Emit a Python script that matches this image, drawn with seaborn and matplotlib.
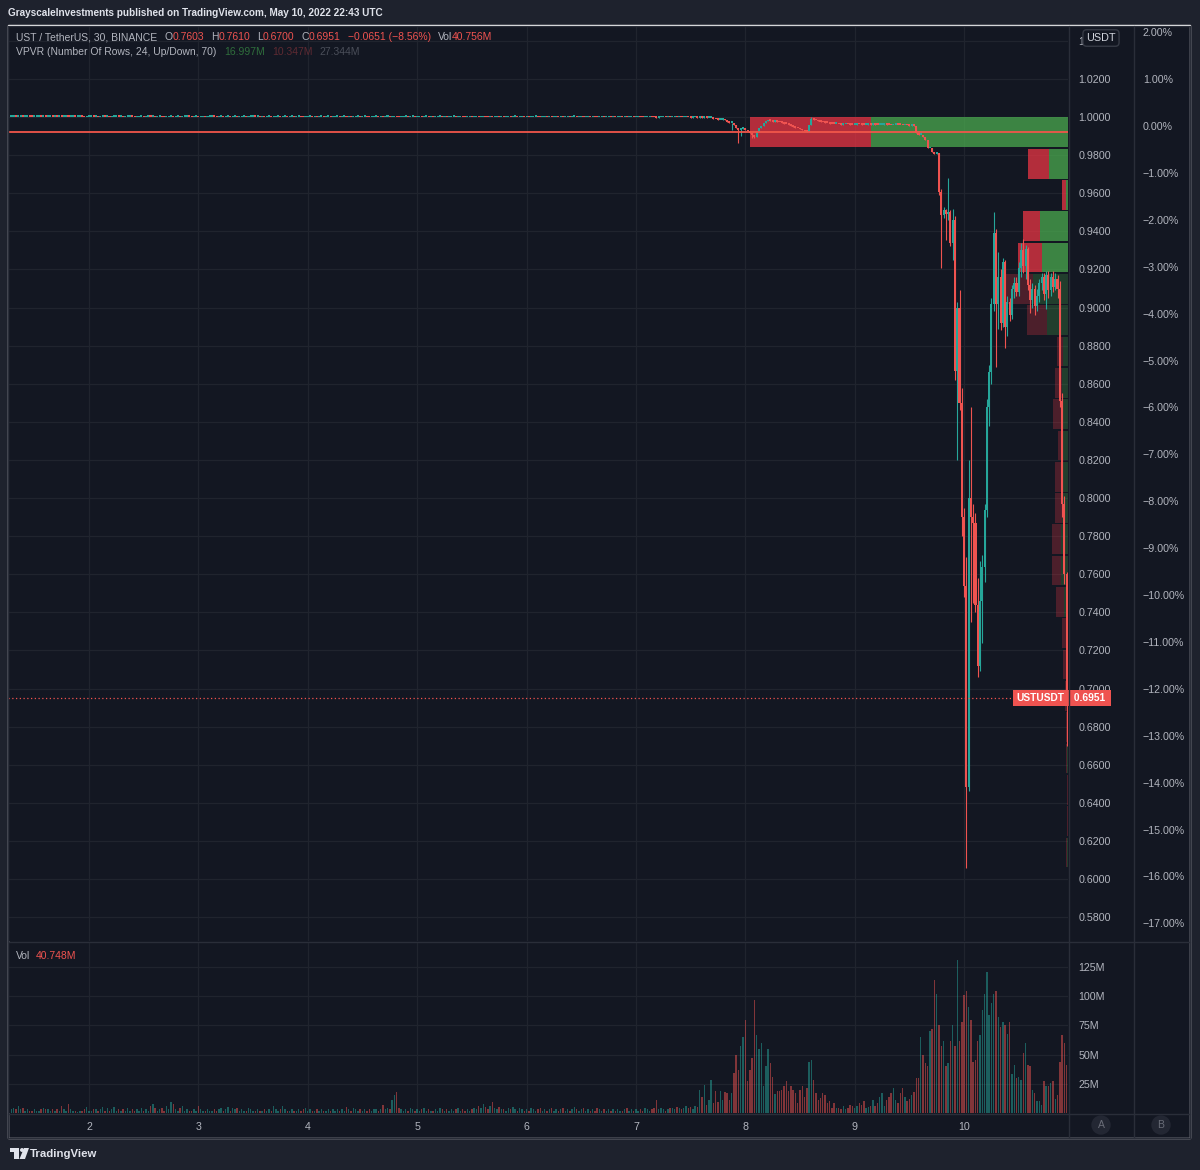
import numpy as np
import pandas as pd
import matplotlib
matplotlib.use("Agg")
import matplotlib.pyplot as plt
import matplotlib.transforms as mtransforms
from matplotlib.colors import to_rgba
from matplotlib.lines import Line2D
from matplotlib.patches import Rectangle, Circle, Polygon
import seaborn as sns

W, H = 1200, 1170

# ---------------- data (UST/USDT, 30 min, Binance) ----------------
start = "2022-05-01 07:00"

# May 1 07:00 -> May 7 13:30 : close offsets from 1.0000 in 0.0001
flat_bp = [
    1, 2, 1, 2, 2, 1, 1, 2, 1, 0, 1, 1, 2, 1, 1, 0, 1, 2, 1, 1, 0, 1, 0, 1,
    1, 0, 0, 1, 0, 1, 1, 0, -1, 0, 0, 1, 0, 0, -1, 0, 1, 0, 0, -1, 0, 0, 1, 0,
    0, -1, 0, 0, 1, 0, -1, -1, 0, 0, -1, 0, 1, 0, 0, -1, 0, 0, -1, -2, -1, 0, 0, -1,
    0, 0, -1, 0, 0, 1, 0, -1, 0, 0, -1, -1, 0, -1, 0, 0, 1, 0, -1, 0, 0, -1, 0, 0,
    -1, 0, 0, -1, -1, 0, 0, -1, 0, 0, 1, 0, 0, -1, 0, -1, 0, 0, -1, -1, 0, 0, -1, 0,
    0, -1, 0, 0, -1, 0, 0, -1, -2, -1, 0, 0, -1, 0, -1, 0, 0, -1, 0, 0, -1, -1, 0, 0,
    -1, 0, 0, -1, 0, -1, -1, 0, 0, -1, 0, 0, -1, -2, -1, 0, 0, -1, 0, -1, 0, 0, -1, -1,
    0, -1, -2, -1, 0, 0, -1, 0, 0, -1, -1, 0, -1, 0, 0, -1, 0, -1, -1, 0, 0, -1, 0, -1,
    -1, 0, 0, -1, -1, 0, -1, -2, -1, 0, -1, -1, 0, -2, -1, 0, -1, -2, 0, -1, -1, 0, -1, 0,
    -1, -1, 0, -1, 0, 0, -1, -1, 0, -1, 0, -1, -1, 0, 0, -1, -2, -1, 0, -1, 0, -1, -1, 0,
    -1, 0, -1, -1, 0, -1, 0, 0, -1, -1, 0, -1, -1, 0, -1, 0, -1, -2, -1, 0, -1, -1, 0, -1,
    0, -1, -1, 0, -1, 0, -1, -1, 0, -1, -1, 0, -1, -2, -1, -1, 0, -1, -2, -3, -1, -1, 0, -1,
    -1, -2, -1, -1, -2, -1, -2, -2, -1, -2, -3, -2, -2, -3,
]

# May 7 14:00 -> May 9 18:00 closes
mid_close = [
    0.9999, 0.9996, 0.9998, 0.9995, 0.9996, 0.9997, 0.9992, 0.9988, 0.9985, 0.9987,
    0.9989, 0.9983, 0.9976, 0.9968, 0.9970,
    0.9958, 0.9945, 0.9932, 0.9938, 0.9944, 0.9930, 0.9925, 0.9918, 0.9905, 0.9895,
    0.9925, 0.9942, 0.9955, 0.9968, 0.9978, 0.9982,
    0.9980, 0.9976, 0.9978, 0.9974, 0.9972,
    0.9970, 0.9966, 0.9963, 0.9960, 0.9955, 0.9950, 0.9945, 0.9940, 0.9936, 0.9930,
    0.9925, 0.9922,
    0.9960, 0.9990, 0.9985,
    0.9982, 0.9978, 0.9975, 0.9972, 0.9970, 0.9968,
    0.9966, 0.9965, 0.9963, 0.9964, 0.9962, 0.9960, 0.9961, 0.9963, 0.9962, 0.9960,
    0.9958, 0.9960, 0.9962, 0.9961, 0.9960, 0.9959, 0.9960, 0.9962, 0.9960,
    0.9961, 0.9960, 0.9958, 0.9959, 0.9960, 0.9961, 0.9960, 0.9958, 0.9957, 0.9958,
    0.9960, 0.9959, 0.9958, 0.9957, 0.9958, 0.9956, 0.9955, 0.9956, 0.9953,
    0.9918, 0.9905, 0.9908, 0.9895, 0.9880, 0.9835, 0.9840, 0.9815, 0.9808, 0.9812,
]
# visible wicks in the mid section: candle index -> (high, low)
mid_wick = {316: (None, 0.9932), 319: (None, 0.9864), 320: (None, 0.9900),
            325: (None, 0.9890), 326: (None, 0.9888), 351: (1.0002, None)}

# May 9 18:30 -> May 10 22:30
crash_open = [
    0.9812, 0.9606, 0.9486, 0.9510, 0.9490, 0.9500, 0.9340, 0.9460, 0.8667, 0.9000,
    0.8500, 0.7900, 0.7540, 0.6483, 0.8000, 0.7900, 0.7870, 0.7440, 0.7120, 0.7460,
    0.7640, 0.7940, 0.8480, 0.8660, 0.9020, 0.9390, 0.9020, 0.9160, 0.8920, 0.9240,
    0.8900, 0.9030, 0.8960, 0.9100, 0.9130, 0.9080, 0.9210, 0.9300, 0.9220, 0.9310,
    0.9120, 0.9040, 0.9100, 0.9010, 0.9060, 0.9130, 0.9160, 0.9070, 0.9170, 0.9090,
    0.9160, 0.9110, 0.9150, 0.9100, 0.8510, 0.7970, 0.7603,
]
crash_high = [
    0.9812, 0.9620, 0.9530, 0.9520, 0.9680, 0.9510, 0.9520, 0.9480, 0.9030, 0.9090,
    0.8580, 0.7950, 0.7690, 0.8200, 0.8480, 0.7970, 0.7920, 0.7580, 0.7670, 0.7700,
    0.7970, 0.8520, 0.8700, 0.9050, 0.9500, 0.9410, 0.9290, 0.9200, 0.9260, 0.9250,
    0.9060, 0.9050, 0.9120, 0.9160, 0.9160, 0.9240, 0.9340, 0.9360, 0.9330, 0.9320,
    0.9150, 0.9130, 0.9120, 0.9100, 0.9150, 0.9180, 0.9180, 0.9190, 0.9190, 0.9180,
    0.9190, 0.9180, 0.9170, 0.9140, 0.8550, 0.8010, 0.7610,
]
crash_low = [
    0.9590, 0.9207, 0.9470, 0.9354, 0.9460, 0.9325, 0.9250, 0.8620, 0.8200, 0.8460,
    0.7800, 0.7480, 0.6058, 0.6460, 0.7350, 0.7450, 0.7400, 0.7060, 0.7090, 0.7240,
    0.7560, 0.7900, 0.8380, 0.8600, 0.8980, 0.8690, 0.8890, 0.8880, 0.8900, 0.8790,
    0.8850, 0.8930, 0.8940, 0.9050, 0.9060, 0.9060, 0.9160, 0.9180, 0.9150, 0.9090,
    0.8970, 0.9000, 0.8960, 0.8980, 0.9030, 0.9090, 0.9040, 0.8990, 0.9050, 0.9060,
    0.9080, 0.9090, 0.9050, 0.8480, 0.7900, 0.7550, 0.6700,
]
crash_close = [
    0.9606, 0.9486, 0.9510, 0.9490, 0.9500, 0.9340, 0.9460, 0.8667, 0.9000, 0.8500,
    0.7900, 0.7540, 0.6483, 0.8000, 0.7900, 0.7870, 0.7440, 0.7120, 0.7460, 0.7640,
    0.7940, 0.8480, 0.8660, 0.9020, 0.9390, 0.9020, 0.9160, 0.8920, 0.9240, 0.8900,
    0.9030, 0.8960, 0.9100, 0.9130, 0.9080, 0.9210, 0.9300, 0.9220, 0.9310, 0.9120,
    0.9040, 0.9100, 0.9010, 0.9060, 0.9130, 0.9160, 0.9070, 0.9170, 0.9090, 0.9160,
    0.9110, 0.9150, 0.9100, 0.8510, 0.7970, 0.7602, 0.6951,
]

# volume per candle, millions
vol_flat = [
    3, 4, 3, 6, 3, 4, 2, 3, 2, 2, 3, 2, 2, 3, 4, 3, 3, 2, 3, 2, 3, 2, 6, 3,
    2, 8, 3, 2, 2, 1, 2, 2, 3, 5, 2, 2, 3, 3, 2, 3, 5, 2, 4, 2, 3, 5, 2, 3,
    2, 3, 2, 4, 2, 3, 2, 3, 2, 4, 2, 3, 2, 6, 8, 4, 2, 3, 4, 2, 6, 3, 9, 8,
    3, 2, 4, 6, 2, 3, 2, 2, 3, 2, 6, 3, 2, 2, 3, 2, 2, 3, 2, 3, 4, 2, 3, 5,
    2, 4, 3, 4, 2, 3, 2, 2, 4, 3, 2, 2, 3, 2, 2, 3, 2, 3, 2, 6, 3, 2, 3, 6,
    3, 2, 2, 3, 2, 2, 3, 2, 3, 4, 2, 3, 2, 2, 3, 2, 3, 2, 2, 3, 2, 3, 2, 3,
    2, 3, 2, 5, 3, 2, 4, 3, 2, 3, 2, 3, 2, 3, 2, 3, 3, 2, 3, 7, 3, 4, 3, 11,
    15, 18, 4, 3, 2, 3, 2, 4, 3, 2, 3, 2, 3, 4, 2, 3, 2, 2, 3, 2, 4, 3, 2, 3,
    2, 3, 2, 3, 4, 2, 3, 2, 3, 2, 3, 4, 3, 6, 4, 8, 5, 3, 6, 9, 4, 3, 5, 3,
    3, 2, 4, 3, 5, 3, 2, 4, 3, 2, 3, 2, 4, 3, 2, 3, 4, 2, 3, 2, 3, 4, 2, 3,
    2, 3, 4, 2, 3, 2, 3, 5, 3, 2, 3, 4, 2, 3, 2, 3, 2, 4, 3, 2, 3, 2, 3, 2,
    3, 2, 3, 2, 2, 3, 4, 2, 3, 2, 3, 2, 3, 2, 4, 3, 2, 3, 4, 11, 3, 4, 3, 2,
    3, 4, 4, 3, 5, 4, 3, 4, 6, 4, 5, 3, 6, 5,
]
vol_mid = [
    20, 14, 24, 7, 11, 28, 8.5, 18.5, 9, 18.5, 11, 18, 17, 11, 17,
    34, 50, 37, 57, 65, 80, 27, 37, 47, 97, 67, 55, 60, 23, 40, 55, 43, 31,
    16, 18.5, 18.5, 20, 23, 27, 18.5, 23, 20, 17, 8.5, 20,
    23, 14, 21, 44, 45, 28, 17, 11,
    13, 17, 15, 8.5, 10, 4, 8.5, 4,
    4, 3, 5.7, 3, 4, 7, 5.7, 4, 5.7, 8.5, 7, 10, 4, 5,
    5.7, 11, 5.7, 8.5, 14, 17, 5.7, 11, 14, 17, 21, 11, 8.5, 17, 21, 14,
    10, 12, 15,
]
vol_crash = [
    18, 30, 30, 65, 50, 43, 40, 70, 72, 114,
    102, 75, 57, 62, 40, 43, 62, 75, 57, 131,
    62, 78, 101, 104, 91, 80, 44, 45, 62, 67,
    88, 102, 121, 84, 94, 102, 104, 82, 74, 78,
    75, 68, 78, 33, 41, 30, 31, 28, 51, 60,
    41, 40, 20, 17, 10, 10, 7, 27, 23, 23,
    26, 27, 12, 15, 44, 67, 60, 40.748,
]

# VPVR, 24 rows from the top of the visible range, up / down volume (M)
vp_up = [1950, 190, 20, 280, 260, 350, 210, 50, 60, 50, 55, 60,
         60, 70, 70, 40, 20, 15, 10, 6, 5, 4, 4, 5]
vp_down = [1200, 210, 35, 170, 240, 280, 200, 60, 70, 100, 40, 70,
           70, 90, 85, 80, 40, 30, 20, 12, 10, 8, 8, 10]
value_area_rows = 5

price_ticks = [0.58, 0.60, 0.62, 0.64, 0.66, 0.68, 0.70, 0.72, 0.74, 0.76, 0.78, 0.80,
               0.82, 0.84, 0.86, 0.88, 0.90, 0.92, 0.94, 0.96, 0.98, 1.00, 1.02, 1.04]
pct_ticks = list(range(-17, 3))
vol_ticks = [25, 50, 75, 100, 125]

# ---------------- build the table ----------------
close = [1 + b / 1e4 for b in flat_bp] + mid_close
opn = [1.0001] + close[:-1]
high = [max(o, c) for o, c in zip(opn, close)]
low = [min(o, c) for o, c in zip(opn, close)]
for i, (hh, ll) in mid_wick.items():
    if hh is not None:
        high[i] = hh
    if ll is not None:
        low[i] = ll
opn += crash_open
high += crash_high
low += crash_low
close += crash_close

df = pd.DataFrame({"open": opn, "high": high, "low": low, "close": close,
                   "vol": vol_flat + vol_mid + vol_crash})
df["time"] = pd.date_range(start, periods=len(df), freq="30min")
df["i"] = np.arange(len(df))
df["dir"] = np.where(df["close"] >= df["open"], "up", "down")

midnight = (df.time.dt.hour == 0) & (df.time.dt.minute == 0)
day_pos = df.loc[midnight, "i"].values
day_lab = df.loc[midnight, "time"].dt.day.values

# ---------------- style ----------------
BG = "#131722"
FRAME = "#1e222d"
GRID = "#20242e"
SEP = "#2a2e39"
TXT = "#b2b5be"
TEAL = "#26a69a"
RED = "#ef5350"

sns.set_theme(style="darkgrid", rc={
    "figure.facecolor": FRAME, "axes.facecolor": BG, "grid.color": GRID,
    "grid.linewidth": 0.9, "axes.edgecolor": BG, "xtick.color": TXT, "ytick.color": TXT,
})
plt.rcParams["font.family"] = ["Liberation Sans", "DejaVu Sans"]


def rect(l, t, r, b):
    return [l / W, 1 - b / H, (r - l) / W, (b - t) / H]


fig = plt.figure(figsize=(W / 100, H / 100), dpi=100)
fig.patches.append(Rectangle((8 / W, 1 - 1138 / H), 1182 / W, 1113 / H,
                             transform=fig.transFigure, facecolor=BG, zorder=-5))

ax = fig.add_axes(rect(8, 26, 1068, 941))
ax_vol = fig.add_axes(rect(8, 943, 1068, 1113))
ax_pct = fig.add_axes(rect(1069, 26, 1133, 941))

XL = (-1.54, 463.6)

# ---------------- candles ----------------
cols = np.where(df["dir"] == "up", TEAL, RED)
ax.vlines(df["i"], df["low"], df["high"], colors=cols, linewidth=0.8, zorder=3)
body = np.maximum((df["close"] - df["open"]).abs(), 0.0009)
ax.bar(df["i"], body, bottom=np.minimum(df["open"], df["close"]), width=0.9,
       color=cols, linewidth=0, zorder=3)
ax.set_xlim(*XL)
ax.set_ylim(0.5675, 1.0478)

# ---------------- volume profile ----------------
top, bot = df["high"].max(), df["low"].min()
nrow = len(vp_up)
row_h = (top - bot) / nrow
centers = top - (np.arange(nrow) + 0.5) * row_h
up_v, dn_v = np.array(vp_up, float), np.array(vp_down, float)
tot = up_v + dn_v
scale = 0.3 * (XL[1] - XL[0]) / tot.max()
for k in range(nrow):
    a = 0.72 if k < value_area_rows else 0.26
    uw, dw = up_v[k] * scale, dn_v[k] * scale
    ax.barh(centers[k], uw, left=XL[1] - uw, height=row_h * 0.95,
            color=to_rgba("#4caf50", a), linewidth=0, zorder=2)
    ax.barh(centers[k], dw, left=XL[1] - uw - dw, height=row_h * 0.95,
            color=to_rgba("#f23645", a), linewidth=0, zorder=2)
ax.axhline(centers[np.argmax(tot)], color="#f0564a", linewidth=1.3, zorder=4)

last = df["close"].iloc[-1]
ax.axhline(last, xmin=0, xmax=(1015 - 8) / 1060, color=RED, linewidth=0.9,
           linestyle=(0, (1, 2)), zorder=4)

trans = mtransforms.blended_transform_factory(ax.transAxes, ax.transData)
ax.text(1 - 4 / 1060, last, "USTUSDT", transform=trans, ha="right", va="center",
        color="white", fontsize=7.3, fontweight="bold", zorder=7,
        bbox=dict(boxstyle="square,pad=0.3", fc=RED, ec="none"))
ax.text(1 + 3 / 1060, last, " 0.6951 ", transform=trans, ha="left", va="center",
        color="white", fontsize=7.4, fontweight="bold", zorder=7, clip_on=False,
        bbox=dict(boxstyle="square,pad=0.3", fc=RED, ec="none"))

ax.set_xticks(day_pos)
ax.set_yticks(price_ticks)
ax.set_yticklabels([f"{v:.4f}" for v in price_ticks])
ax.yaxis.tick_right()
ax.tick_params(axis="x", labelbottom=False, length=0)
ax.tick_params(axis="y", length=0, pad=7.5, labelsize=7.7, labelcolor=TXT)
ax.set_xlabel("")
ax.set_ylabel("")

# ---------------- volume pane ----------------
sns.barplot(data=df, x="i", y="vol", hue="dir", palette={"up": TEAL, "down": RED},
            native_scale=True, dodge=False, width=0.62, errorbar=None, legend=False,
            saturation=1, alpha=0.5, linewidth=0, ax=ax_vol)
ax_vol.set_xlim(*XL)
ax_vol.set_ylim(0, 145.5)
ax_vol.set_xticks(day_pos)
ax_vol.set_xticklabels([str(d) for d in day_lab])
ax_vol.set_yticks(vol_ticks)
ax_vol.set_yticklabels([f"{v}M" for v in vol_ticks])
ax_vol.yaxis.tick_right()
ax_vol.tick_params(axis="x", length=0, pad=6.5, labelsize=7.7, labelcolor=TXT)
ax_vol.tick_params(axis="y", length=0, pad=7.5, labelsize=7.7, labelcolor=TXT)
ax_vol.set_xlabel("")
ax_vol.set_ylabel("")

# ---------------- percent scale ----------------
ax_pct.patch.set_alpha(0)
ax_pct.grid(False)
ax_pct.set_ylim(-17.377, 2.132)
ax_pct.set_yticks(pct_ticks)
ax_pct.set_yticklabels([f"{v:.2f}%".replace("-", "\u2212") for v in pct_ticks])
ax_pct.yaxis.tick_right()
ax_pct.set_xticks([])
ax_pct.tick_params(axis="y", length=0, pad=7, labelsize=7.7, labelcolor=TXT)
for a_ in (ax, ax_vol, ax_pct):
    for s in a_.spines.values():
        s.set_visible(False)


# ---------------- frame lines ----------------
def fline(x0, y0, x1, y1):
    fig.lines.append(Line2D([x0 / W, x1 / W], [1 - y0 / H, 1 - y1 / H],
                            transform=fig.transFigure, color=SEP, linewidth=1, zorder=8))


fline(8, 25.5, 1190, 25.5)
fline(8, 1138, 1190, 1138)
fline(8, 25.5, 8, 1138)
fline(1190, 25.5, 1190, 1138)
fline(1068.5, 25.5, 1068.5, 1138)
fline(1133.5, 25.5, 1133.5, 1138)
fline(8, 942, 1190, 942)
fline(8, 1113.5, 1190, 1113.5)

# ---------------- texts ----------------
renderer = fig.canvas.get_renderer()


def chain(x_px, y_px, parts, size):
    for s, c, gap in parts:
        t = fig.text(x_px / W, 1 - y_px / H, s, color=c, fontsize=size,
                     va="center", ha="left", zorder=9)
        x_px += t.get_window_extent(renderer).width + gap


fig.text(8 / W, 1 - 13 / H,
         "GrayscaleInvestments published on TradingView.com, May 10, 2022 22:43 UTC",
         color="#e0e3eb", fontsize=7.2, fontweight="bold", va="center", ha="left")

chain(16, 37, [("UST / TetherUS, 30, BINANCE", TXT, 7), ("O", TXT, 0), ("0.7603", RED, 7),
               ("H", TXT, 0), ("0.7610", RED, 7), ("L", TXT, 0), ("0.6700", RED, 7),
               ("C", TXT, 0), ("0.6951", RED, 7),
               ("\u22120.0651 (\u22128.56%)", RED, 7), ("Vol", TXT, 0), ("40.756M", RED, 0)], 7.45)
chain(16, 52, [("VPVR (Number Of Rows, 24, Up/Down, 70)", TXT, 8), ("16.997M", "#2f6e3c", 7),
               ("10.347M", "#5e2a32", 7), ("27.344M", "#4a4e59", 0)], 7.5)
chain(16, 956, [("Vol", TXT, 6), ("40.748M", RED, 0)], 7.5)

fig.text(1101 / W, 1 - 38 / H, "USDT", color="#d1d4dc", fontsize=7.8, ha="center",
         va="center", zorder=9,
         bbox=dict(boxstyle="round,pad=0.3,rounding_size=0.35", fc=BG, ec="#363a45", lw=1))

for lx, lt in ((1101, "A"), (1161, "B")):
    fig.text(lx / W, 1 - 1125 / H, lt, color="#6a6d78", fontsize=7.5, ha="center",
             va="center", zorder=9,
             bbox=dict(boxstyle="circle,pad=0.45", fc="#232733", ec="none"))

# TradingView footer logo
logo = "#e0e3eb"
fig.patches.append(Rectangle((10 / W, 1 - 1152 / H), 9 / W, 4 / H, transform=fig.transFigure,
                             fc=logo, ec="none", zorder=9))
fig.patches.append(Rectangle((14 / W, 1 - 1159 / H), 5 / W, 11 / H, transform=fig.transFigure,
                             fc=logo, ec="none", zorder=9))
fig.patches.append(Circle((22 / W, 1 - 1150 / H), 2 / W, transform=fig.transFigure,
                          fc=logo, ec="none", zorder=9))
fig.patches.append(Polygon([(24 / W, 1 - 1148 / H), (29 / W, 1 - 1148 / H),
                            (25 / W, 1 - 1159 / H), (19.5 / W, 1 - 1159 / H)],
                           closed=True, transform=fig.transFigure, fc=logo, ec="none", zorder=9))
fig.text(30 / W, 1 - 1154 / H, "TradingView", color=logo, fontsize=8.2, fontweight="bold",
         va="center", ha="left")

fig.savefig("out.png", dpi=100, facecolor=FRAME)
